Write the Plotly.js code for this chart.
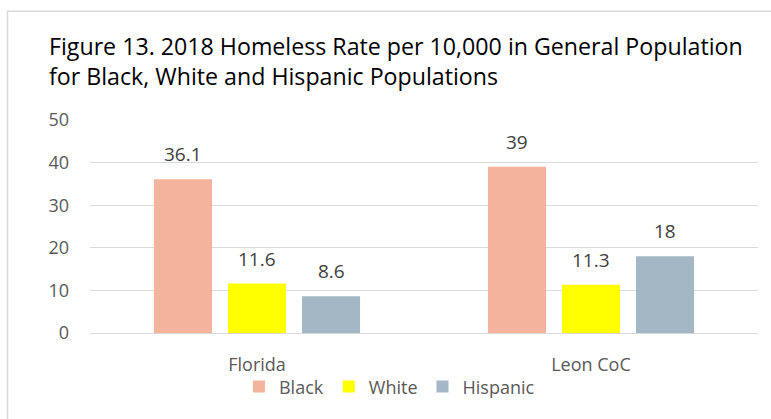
<!DOCTYPE html>
<html>
<head>
<meta charset="utf-8">
<script src="https://cdn.plot.ly/plotly-3.0.1.min.js"></script>
<style>html,body{margin:0;padding:0;background:#fff;}#chart{width:771px;height:419px;}</style>
</head>
<body>
<div id="chart"></div>
<script>
const categories = ["Florida", "Leon CoC"];
const seriesNames = ["Black", "White", "Hispanic"];
const blackValues = [36.1, 39];
const whiteValues = [11.6, 11.3];
const hispanicValues = [8.6, 18];
const seriesColors = ["#F4B39D", "#FFFF00", "#A3B8C4"];
const yTicks = [0, 10, 20, 30, 40, 50];

const seriesValues = [blackValues, whiteValues, hispanicValues];
const BARGAP = 0.335;
const GROUPGAP = 0.216;
const FONT = "Open Sans";

const traces = seriesNames.map((name, j) => ({
  type: "bar",
  name: name,
  x: categories,
  y: seriesValues[j],
  marker: { color: seriesColors[j], line: { width: 0 } },
  hoverinfo: "skip"
}));

const slot = (1 - BARGAP) / seriesNames.length;
const annotations = [];
seriesValues.forEach((vals, j) => {
  vals.forEach((v, i) => {
    annotations.push({
      x: i + (j - (seriesNames.length - 1) / 2) * slot,
      y: v,
      xref: "x", yref: "y",
      text: String(v),
      showarrow: false,
      yanchor: "bottom",
      yshift: 10,
      font: { family: FONT, size: 19, color: "#404040" }
    });
  });
});

const layout = {
  width: 771, height: 419,
  margin: { l: 90, r: 13, t: 120, b: 86 },
  paper_bgcolor: "#ffffff",
  plot_bgcolor: "#ffffff",
  barmode: "group",
  bargap: BARGAP,
  bargroupgap: GROUPGAP,
  title: {
    text: "Figure 13. 2018 Homeless Rate per 10,000 in General Population<br>for Black, White and Hispanic Populations",
    xref: "container", yref: "container",
    x: 49 / 771, xanchor: "left",
    y: 1 - 55 / 419, yanchor: "top",
    font: { family: FONT, size: 23.2, color: "#000000" }
  },
  xaxis: {
    type: "category",
    showgrid: false,
    showline: true, linecolor: "#D9D9D9", linewidth: 1,
    ticks: "",
    ticklabelstandoff: 15,
    tickfont: { family: FONT, size: 18, color: "#595959" },
    fixedrange: true
  },
  yaxis: {
    range: [0, 50],
    tickvals: yTicks,
    ticktext: yTicks.map(String),
    showgrid: true, gridcolor: "#D9D9D9", gridwidth: 1,
    zeroline: false, showline: false,
    ticks: "",
    ticklabelstandoff: 20,
    tickfont: { family: FONT, size: 18, color: "#595959" },
    fixedrange: true
  },
  showlegend: true,
  legend: {
    orientation: "h",
    x: 0.223, xanchor: "left",
    y: -0.253, yanchor: "middle",
    bgcolor: "rgba(0,0,0,0)",
    font: { family: FONT, size: 18, color: "#595959" },
    traceorder: "normal"
  },
  annotations: annotations,
  shapes: [{
    type: "rect", xref: "paper", yref: "paper",
    x0: -0.1235, x1: 1.2, y0: -0.8, y1: 1.511,
    line: { color: "#D9D9D9", width: 1.5 },
    fillcolor: "rgba(0,0,0,0)", layer: "below"
  }]
};

Plotly.newPlot("chart", traces, layout, { staticPlot: true, displayModeBar: false });
</script>
</body>
</html>
